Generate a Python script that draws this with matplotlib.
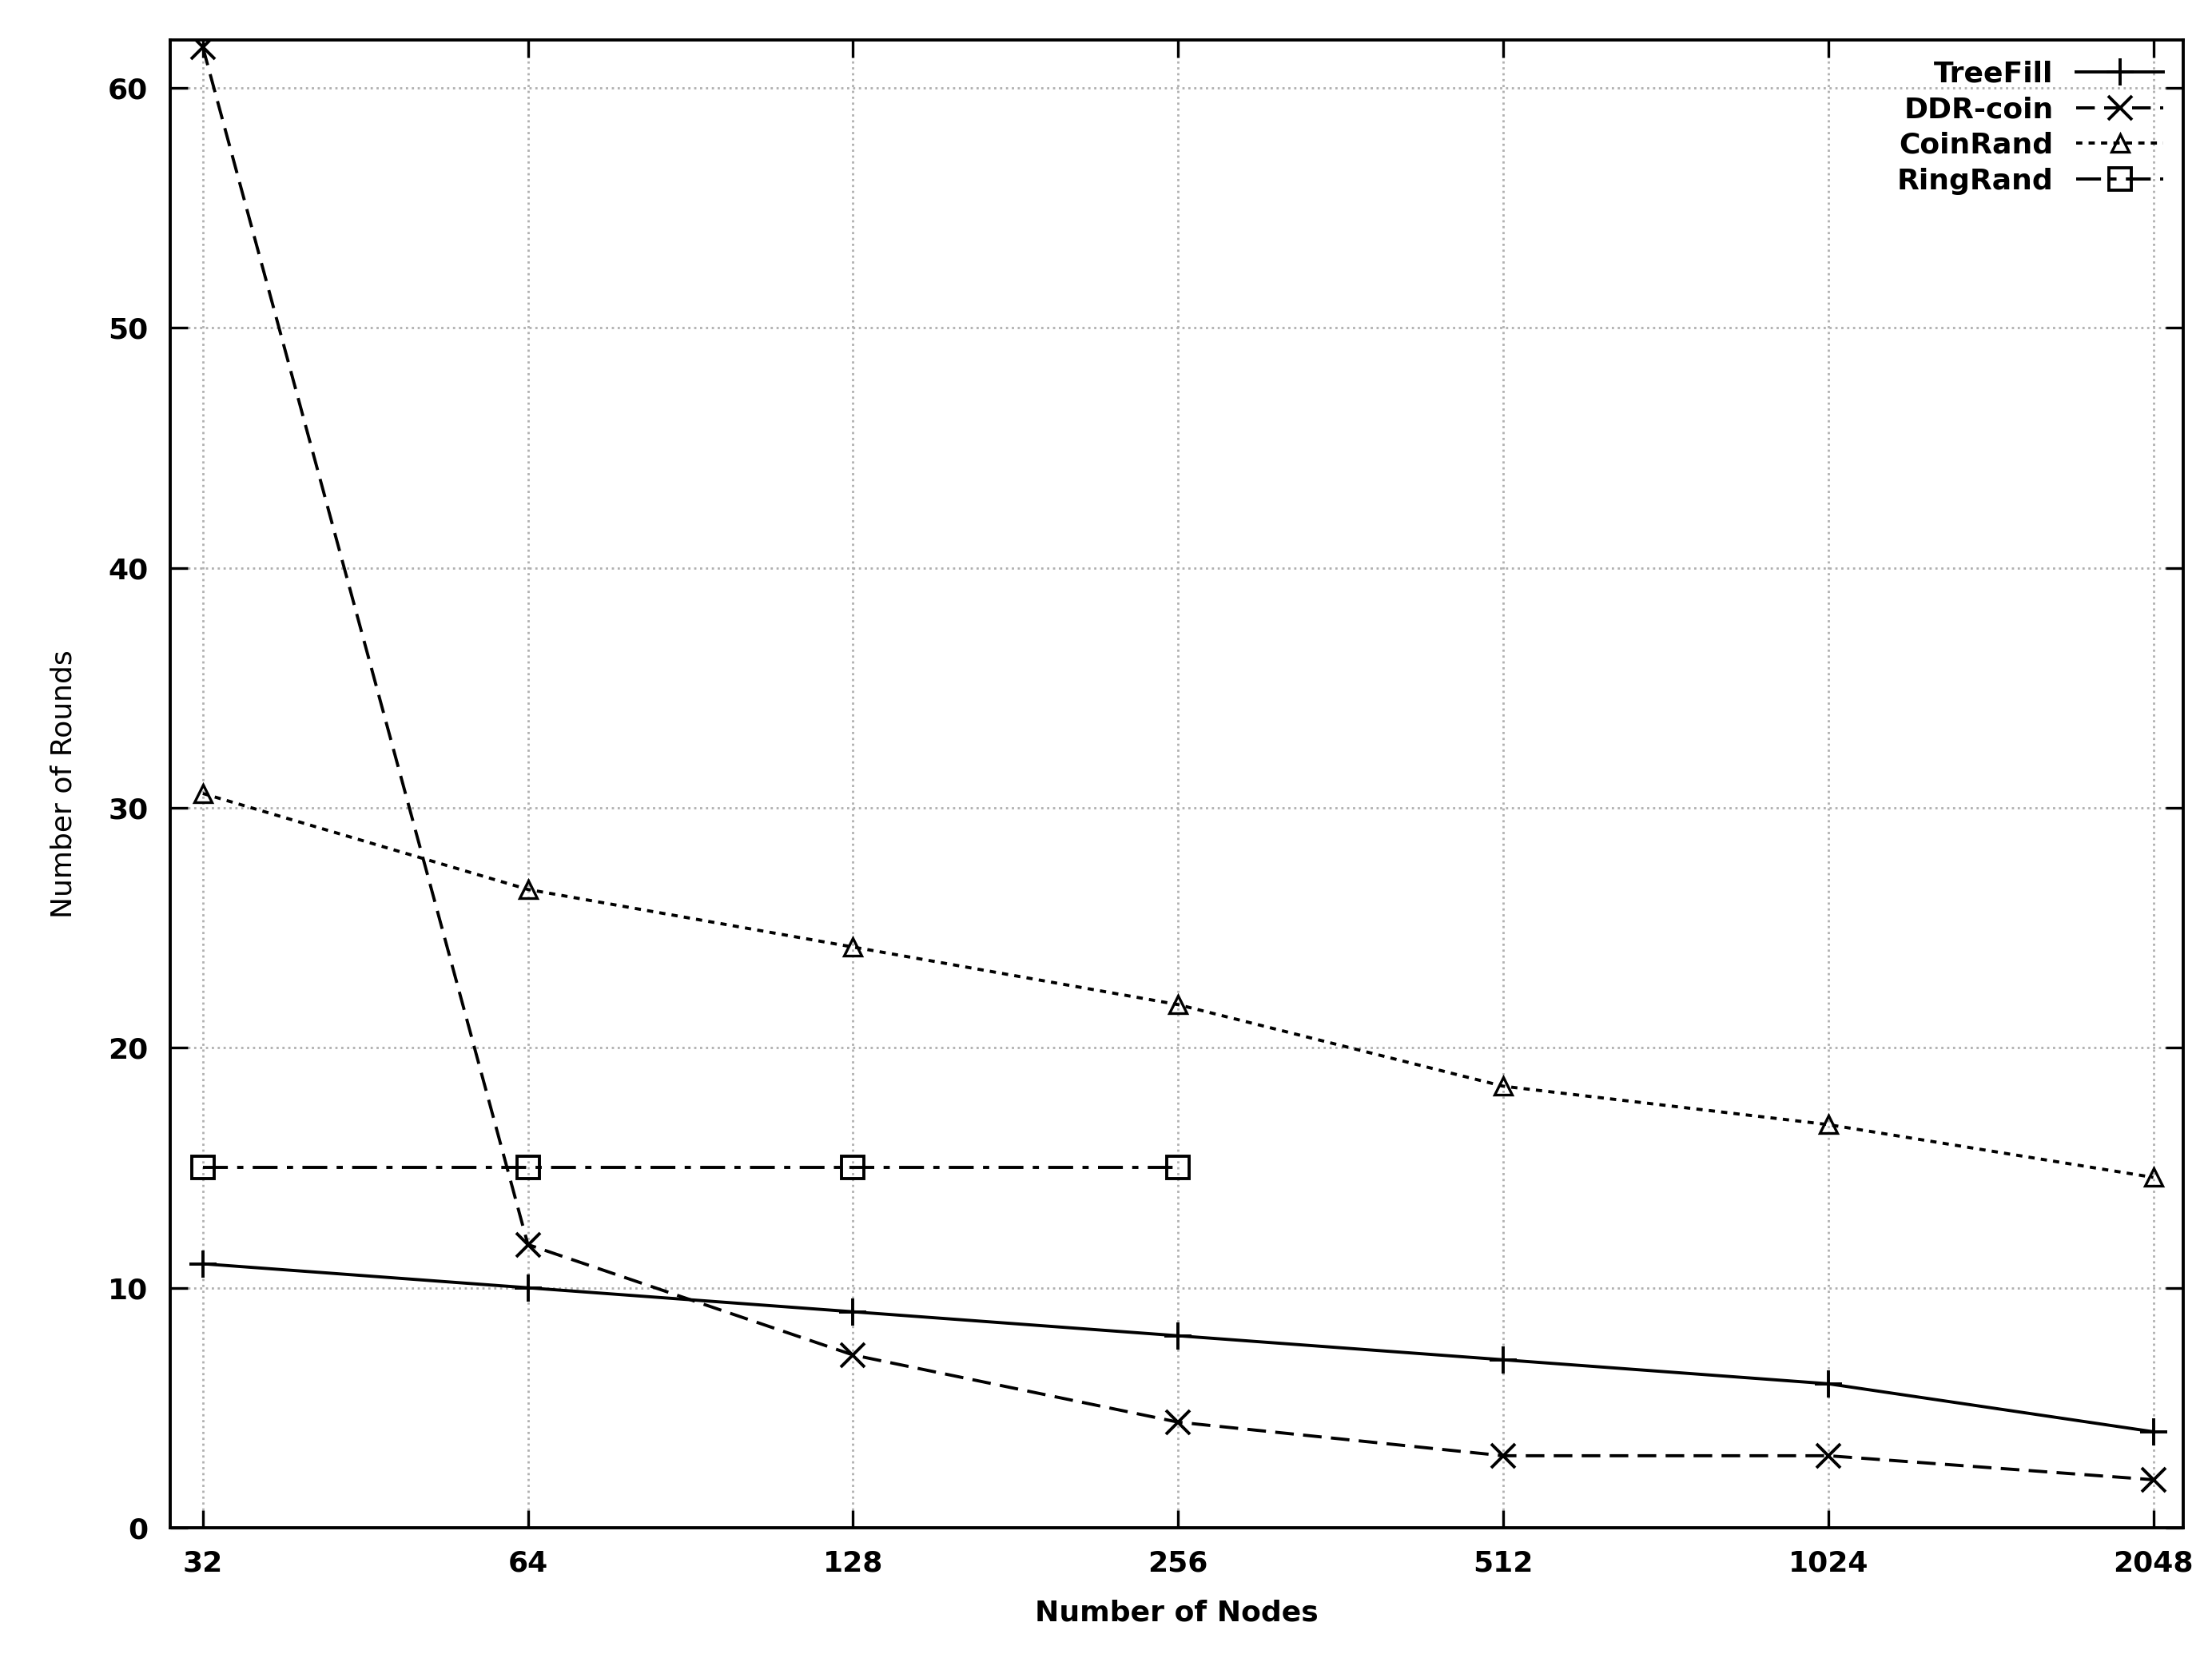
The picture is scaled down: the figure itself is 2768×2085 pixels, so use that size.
import matplotlib.pyplot as plt
from matplotlib.ticker import FixedLocator, NullLocator

# Data
nodes = [32, 64, 128, 256, 512, 1024, 2048]
treefill = [11, 10, 9, 8, 7, 6, 4]
ddr_coin = [61.7, 11.8, 7.2, 4.4, 3, 3, 2]
coinrand = [30.6, 26.6, 24.2, 21.8, 18.4, 16.8, 14.6]
ring_nodes = [32, 64, 128, 256]
ringrand = [15, 15, 15, 15]
y_ticks = [0, 10, 20, 30, 40, 50, 60]

fig = plt.figure(figsize=(13.84, 10.425), dpi=200)
ax = fig.add_axes([0.077, 0.083, 0.91, 0.893])

ax.plot(nodes, treefill, color='black', lw=1.4, ls='-', marker='+', ms=12, mew=1.4, label='TreeFill')
ax.plot(nodes, ddr_coin, color='black', lw=1.4, ls=(0, (6, 3)), marker='x', ms=11, mew=1.4, label='DDR-coin')
ax.plot(nodes, coinrand, color='black', lw=1.4, ls=(0, (2, 2)), marker='^', ms=8, mew=1.2,
        mfc='none', label='CoinRand')
ax.plot(ring_nodes, ringrand, color='black', lw=1.4, ls=(0, (8, 3, 2, 3)), marker='s', ms=10,
        mew=1.4, mfc='none', label='RingRand')

ax.set_xscale('log', base=2)
ax.set_xlim(32 / 2 ** 0.1, 2048 * 2 ** 0.092)
ax.set_ylim(0, 62)
ax.xaxis.set_major_locator(FixedLocator(nodes))
ax.xaxis.set_minor_locator(NullLocator())
ax.set_xticklabels([str(n) for n in nodes])
ax.set_yticks(y_ticks)

ax.grid(True, color='#b0b0b0', ls=':', lw=1.0)
ax.tick_params(direction='in', top=True, right=True, length=8, width=1.2,
               labelsize=13, pad=10)
for lbl in ax.get_xticklabels() + ax.get_yticklabels():
    lbl.set_fontweight('semibold')
for spine in ax.spines.values():
    spine.set_linewidth(1.4)

ax.set_xlabel('Number of Nodes', fontsize=13, fontweight='semibold', labelpad=10)
ax.set_ylabel('Number of Rounds', fontsize=13, labelpad=14)

leg = ax.legend(loc='upper right', markerfirst=False, frameon=False, fontsize=13,
                handlelength=3, borderaxespad=0.3, labelspacing=0.3)
for t in leg.get_texts():
    t.set_fontweight('semibold')

fig.savefig('out.png', dpi=200)
